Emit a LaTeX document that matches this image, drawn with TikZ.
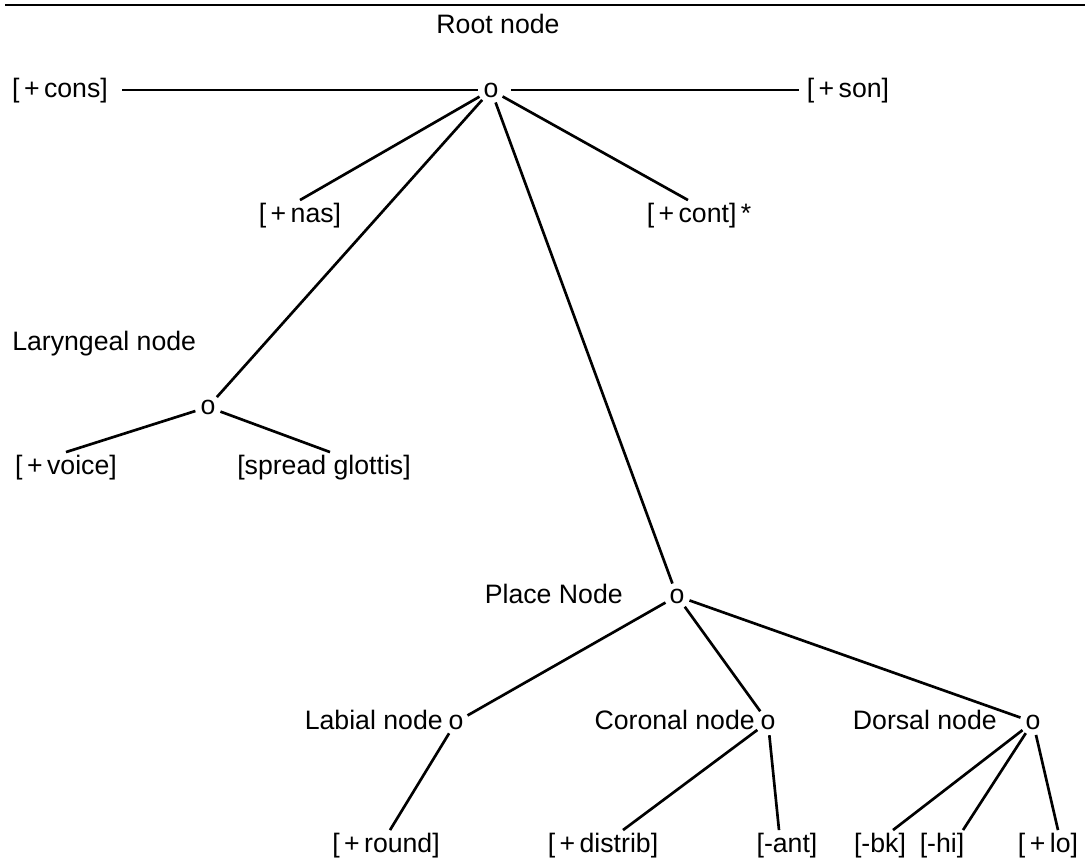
\documentclass[tikz,border=0pt]{standalone}
\usepackage{fontspec}
\setmainfont{Liberation Sans}
\usetikzlibrary{calc}
\begin{document}
\begin{tikzpicture}[x=0.75pt,y=-0.75pt,
  lbl/.style={font=\fontsize{20}{24}\selectfont, inner sep=1.5pt, text height=15pt, text depth=4pt},
  onode/.style={font=\fontsize{20}{24}\selectfont, circle, inner sep=0pt, minimum size=19.5pt},
  edge/.style={line width=2pt},
]
\useasboundingbox (0,0) rectangle (1085,861);
\draw[line width=2.2pt] (5,5) -- (1085,5);

% root
\node[lbl] (rootlbl) at (498,26) {Root node};
\node[onode] (root) at (491,90) {o};
\node[lbl] (cons) at (60,90) {[\,+\,cons]};
\node[lbl] (son) at (848,90) {[\,+\,son]};
\draw[edge, shorten <=9pt] (cons) -- (root);
\draw[edge, shorten <=5pt, shorten >=4pt] (root) -- (son);

\node[lbl] (nas) at (300,215) {[\,+\,nas]};
\node[lbl] (cont) at (699,215) {[\,+\,cont]\,*};
\draw[edge] (root) -- (nas.north);
\draw[edge] (root) -- ($(cont.north)+(-11,0)$);

% laryngeal
\node[lbl, anchor=west] (larlbl) at (10,343) {Laryngeal node};
\node[onode] (laryngeal) at (208,407) {o};
\draw[edge] (root) -- (laryngeal);
\node[lbl] (voice) at (66,467) {[\,+\,voice]};
\node[lbl] (spread) at (324,467) {[spread glottis]};
\draw[edge] (laryngeal) -- (voice.north);
\draw[edge] (laryngeal) -- ($(spread.north)+(6,0)$);

% place
\node[lbl, anchor=east] (placelbl) at (625,596) {Place Node};
\node[onode] (place) at (677,596) {o};
\draw[edge] (root) -- (place);

% articulators
\node[onode] (labial) at (456,722) {o};
\node[lbl, anchor=east] (labiallbl) at (445,722) {Labial node};
\node[onode] (coronal) at (768,722) {o};
\node[lbl, anchor=east] (corlbl) at (757,722) {Coronal node};
\node[onode] (dorsal) at (1033,722) {o};
\node[lbl, anchor=east] (dorlbl) at (999,722) {Dorsal node};
\draw[edge] (place) -- (labial);
\draw[edge] (place) -- (coronal);
\draw[edge] (place) -- (dorsal);

% terminal features
\node[lbl] (round) at (386,845) {[\,+\,round]};
\node[lbl] (distrib) at (603,845) {[\,+\,distrib]};
\node[lbl] (ant) at (787,845) {[-ant]};
\node[lbl] (bk) at (880,845) {[-bk]};
\node[lbl] (hi) at (942,845) {[-hi]};
\node[lbl] (lo) at (1048,845) {[\,+\,lo]};
\draw[edge] (labial) -- ($(round.north)+(4,0)$);
\draw[edge] (coronal) -- ($(distrib.north)+(20,0)$);
\draw[edge] (coronal) -- ($(ant.north)+(-8,0)$);
\draw[edge] (dorsal) -- ($(bk.north)+(13,0)$);
\draw[edge] (dorsal) -- ($(hi.north)+(21,0)$);
\draw[edge] (dorsal) -- ($(lo.north)+(10,0)$);
\end{tikzpicture}
\end{document}
